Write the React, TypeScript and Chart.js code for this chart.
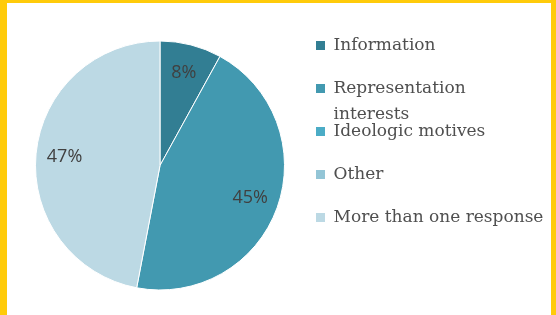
import React, { useEffect, useRef } from "react";
import { Chart, registerables } from "chart.js";

Chart.register(...registerables);

const categories = [
  "Information",
  "Representation interests",
  "Ideologic motives",
  "Other",
  "More than one response",
];
const legendLines = [
  ["Information"],
  ["Representation", "interests"],
  ["Ideologic motives"],
  ["Other"],
  ["More than one response"],
];
const shares = [8, 45, 0, 0, 47];
const sliceColors = ["#327E93", "#4299B0", "#4BACC6", "#93C5D6", "#BCD9E4"];

const LEGEND_FONT = 17;
const LEGEND_BOX = 9;
const LEGEND_LINE = 26;

const percentLabels = {
  id: "percentLabels",
  afterDatasetsDraw(chart: any) {
    const ctx = chart.ctx;
    const meta = chart.getDatasetMeta(0);
    const data = chart.data.datasets[0].data as number[];
    ctx.save();
    ctx.font = "18px 'Open Sans'";
    ctx.fillStyle = "#404040";
    ctx.textAlign = "center";
    ctx.textBaseline = "middle";
    meta.data.forEach((arc: any, i: number) => {
      const v = data[i];
      if (!v) return;
      const { x, y, startAngle, endAngle, outerRadius } = arc.getProps(
        ["x", "y", "startAngle", "endAngle", "outerRadius"],
        true
      );
      const mid = (startAngle + endAngle) / 2;
      const r = outerRadius * 0.77;
      ctx.fillText(v + "%", x + Math.cos(mid) * r, y + Math.sin(mid) * r);
    });
    ctx.restore();
  },
};

const legendContinuation = {
  id: "legendContinuation",
  afterDraw(chart: any) {
    const lg = chart.legend;
    if (!lg || !lg.legendHitBoxes) return;
    const ctx = chart.ctx;
    ctx.save();
    ctx.font = `${LEGEND_FONT}px 'DejaVu Serif'`;
    ctx.fillStyle = "#4F4F4F";
    ctx.textAlign = "left";
    ctx.textBaseline = "middle";
    legendLines.forEach((lines, i) => {
      const hb = lg.legendHitBoxes[i];
      if (!hb) return;
      for (let k = 1; k < lines.length; k++) {
        const x = hb.left + LEGEND_BOX + LEGEND_FONT / 2;
        const y = hb.top + LEGEND_FONT / 2 + k * LEGEND_LINE;
        ctx.fillText(lines[k], x, y);
      }
    });
    ctx.restore();
  },
};

export default function App() {
  const ref = useRef<HTMLCanvasElement>(null);

  useEffect(() => {
    if (!ref.current) return;
    const chart = new Chart(ref.current, {
      type: "pie",
      data: {
        labels: categories,
        datasets: [
          {
            data: shares,
            backgroundColor: sliceColors,
            borderColor: "#ffffff",
            borderWidth: 1,
            radius: 124.5,
          } as any,
        ],
      },
      options: {
        responsive: false,
        animation: false,
        devicePixelRatio: 1,
        layout: { padding: { top: 8, left: 23, right: 0, bottom: 0 } },
        plugins: {
          tooltip: { enabled: false },
          legend: {
            position: "right",
            align: "start",
            labels: {
              font: { family: "'DejaVu Serif'", size: LEGEND_FONT },
              color: "#4F4F4F",
              boxWidth: LEGEND_BOX,
              boxHeight: LEGEND_BOX,
              padding: 26,
              generateLabels: (c: any) => {
                const base = (Chart as any).overrides.pie.plugins.legend.labels.generateLabels(c);
                return base.map((it: any, i: number) => ({
                  ...it,
                  text: legendLines[i][0],
                  lineWidth: 0,
                  strokeStyle: "rgba(0,0,0,0)",
                }));
              },
            },
          },
        },
      },
      plugins: [percentLabels, legendContinuation],
    });
    return () => chart.destroy();
  }, []);

  return (
    <div
      style={{
        position: "absolute",
        left: 0,
        top: 0,
        width: 556,
        height: 315,
        boxSizing: "border-box",
        borderLeft: "7px solid #FFCB0A",
        borderTop: "3px solid #FFCB0A",
        borderRight: "5px solid #FFCB0A",
        background: "#ffffff",
        overflow: "hidden",
      }}
    >
      <canvas
        ref={ref}
        width={543}
        height={317}
        style={{ display: "block", position: "absolute", left: 0, top: 0 }}
      />
    </div>
  );
}
